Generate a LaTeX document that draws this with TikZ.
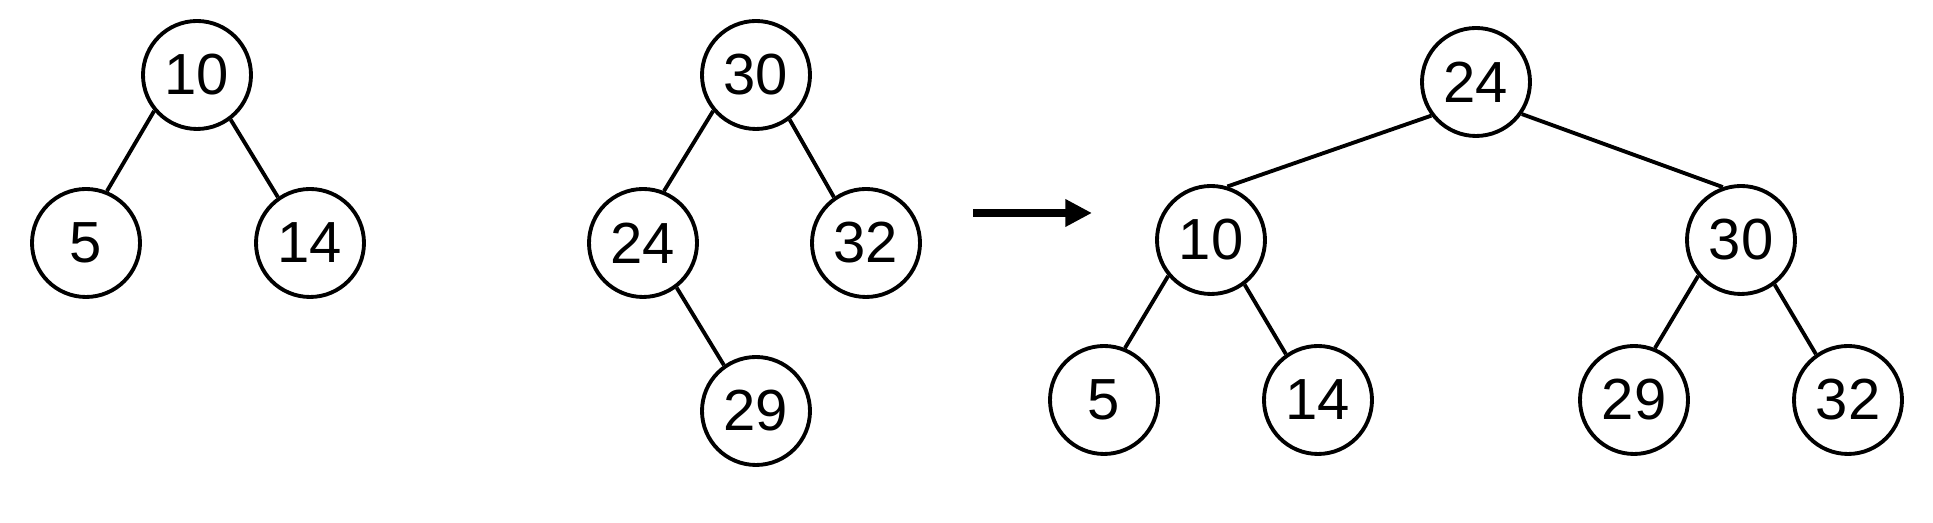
\documentclass[tikz,border=0pt]{standalone}
\usepackage{fontspec}
\setmainfont{Liberation Sans}
\usepackage{tikz}
\usetikzlibrary{arrows.meta,positioning}

\tikzset{
  keynode/.style={circle,draw,line width=1.1pt,minimum size=1.08cm,inner sep=0pt,
    font=\fontsize{16.5}{20}\selectfont},
  treeedge/.style={line width=1.1pt}
}

\begin{document}
\begin{tikzpicture}
    \useasboundingbox (0,0) rectangle (19.33,5.23);

    % Left tree
    \node[keynode] (a10) at (1.97,4.48) {10};
    \node[keynode] (a5) at (0.86,2.80) {5};
    \node[keynode] (a14) at (3.10,2.80) {14};
    \draw[treeedge] (a10.-140) -- (a5.68);
    \draw[treeedge] (a10.-53) -- (a14.125);

    % Middle tree
    \node[keynode] (b30) at (7.56,4.48) {30};
    \node[keynode] (b24) at (6.43,2.80) {24};
    \node[keynode] (b32) at (8.66,2.80) {32};
    \node[keynode] (b29) at (7.56,1.12) {29};
    \draw[treeedge] (b30.-140) -- (b24.68);
    \draw[treeedge] (b30.-53) -- (b32.125);
    \draw[treeedge] (b24.-53) -- (b29.125);

    % Arrow
    \coordinate (arrS) at (9.73,3.10);
    \coordinate (arrE) at (10.92,3.10);
    \draw[line width=2pt,-{Triangle[length=7.6pt,width=7.4pt]}] (arrS) -- (arrE);

    % Joined tree
    \node[keynode] (c24) at (14.76,4.41) {24};
    \node[keynode] (c10) at (12.11,2.83) {10};
    \node[keynode] (c30) at (17.41,2.83) {30};
    \node[keynode] (c5) at (11.04,1.23) {5};
    \node[keynode] (c14) at (13.18,1.23) {14};
    \node[keynode] (c29) at (16.34,1.23) {29};
    \node[keynode] (c32) at (18.48,1.23) {32};
    \draw[treeedge] (c24.-143) -- (c10.73);
    \draw[treeedge] (c24.-35) -- (c30.109);
    \draw[treeedge] (c10.-140) -- (c5.68);
    \draw[treeedge] (c10.-53) -- (c14.125);
    \draw[treeedge] (c30.-140) -- (c29.68);
    \draw[treeedge] (c30.-53) -- (c32.125);
\end{tikzpicture}
\end{document}
